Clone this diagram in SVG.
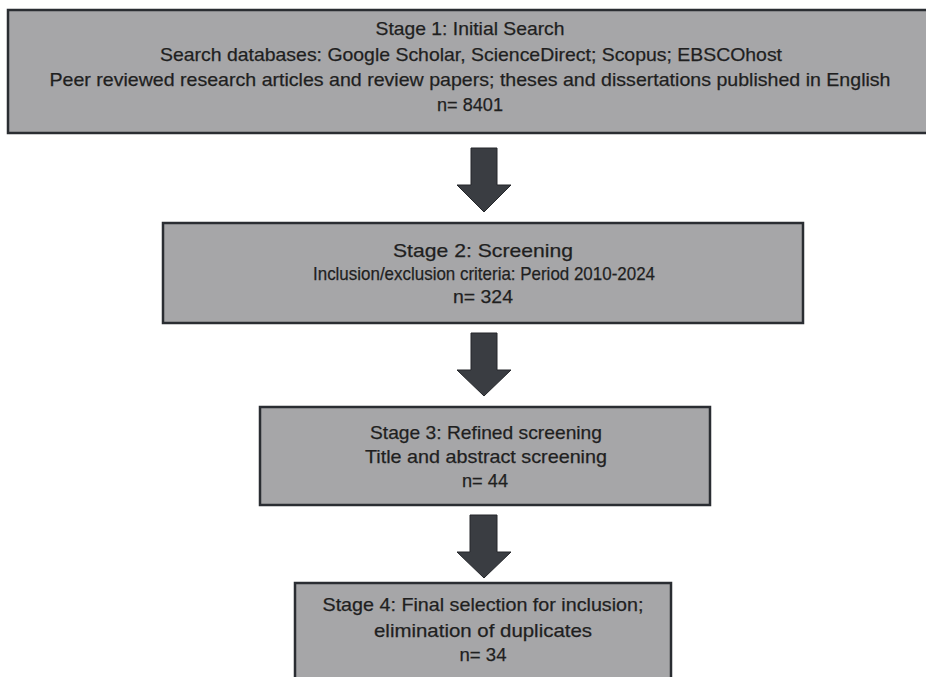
<svg xmlns="http://www.w3.org/2000/svg" width="926" height="677" viewBox="0 0 926 677">
<style>
.box{fill:#a6a6a8;stroke:#2a2d32;stroke-width:2.5}
.t{font-family:"Liberation Sans",Arial,sans-serif;font-size:19px;fill:#1f1f1f;stroke:#1f1f1f;stroke-width:0.25;text-anchor:middle}
.arr{fill:#3a3d42;stroke:#25272b;stroke-width:1}
</style>
<rect width="926" height="677" fill="#ffffff"/>
<g id="stage1">
<rect class="box" x="8" y="10" width="930" height="123"/>
<text class="t" x="470" y="35" textLength="189" lengthAdjust="spacingAndGlyphs">Stage 1: Initial Search</text>
<text class="t" x="471" y="61" textLength="622" lengthAdjust="spacingAndGlyphs">Search databases: Google Scholar, ScienceDirect; Scopus; EBSCOhost</text>
<text class="t" x="470" y="86" textLength="841" lengthAdjust="spacingAndGlyphs">Peer reviewed research articles and review papers; theses and dissertations published in English</text>
<text class="t" x="470" y="111" textLength="66" lengthAdjust="spacingAndGlyphs">n= 8401</text>
</g>
<g id="stage2">
<rect class="box" x="163" y="223" width="640" height="100"/>
<text class="t" x="483" y="257" textLength="180" lengthAdjust="spacingAndGlyphs">Stage 2: Screening</text>
<text class="t" x="484" y="280" textLength="342" lengthAdjust="spacingAndGlyphs">Inclusion/exclusion criteria: Period 2010-2024</text>
<text class="t" x="483" y="303" textLength="60" lengthAdjust="spacingAndGlyphs">n= 324</text>
</g>
<g id="stage3">
<rect class="box" x="260" y="407" width="450" height="98"/>
<text class="t" x="486" y="439" textLength="232" lengthAdjust="spacingAndGlyphs">Stage 3: Refined screening</text>
<text class="t" x="486" y="463" textLength="242" lengthAdjust="spacingAndGlyphs">Title and abstract screening</text>
<text class="t" x="485" y="487" textLength="46" lengthAdjust="spacingAndGlyphs">n= 44</text>
</g>
<g id="stage4">
<rect class="box" x="295" y="583" width="376" height="110"/>
<text class="t" x="483" y="611" textLength="321" lengthAdjust="spacingAndGlyphs">Stage 4: Final selection for inclusion;</text>
<text class="t" x="483" y="637" textLength="218" lengthAdjust="spacingAndGlyphs">elimination of duplicates</text>
<text class="t" x="483" y="661" textLength="47" lengthAdjust="spacingAndGlyphs">n= 34</text>
</g>
<g id="connectors">
<polygon class="arr" points="471,148 497,148 497,185 511,185 484,212 457,185 471,185"/>
<polygon class="arr" points="471,333 497,333 497,370 511,370 484,396 457,370 471,370"/>
<polygon class="arr" points="470,515 497,515 497,552 511,552 484,578 457,552 470,552"/>
</g>
</svg>
